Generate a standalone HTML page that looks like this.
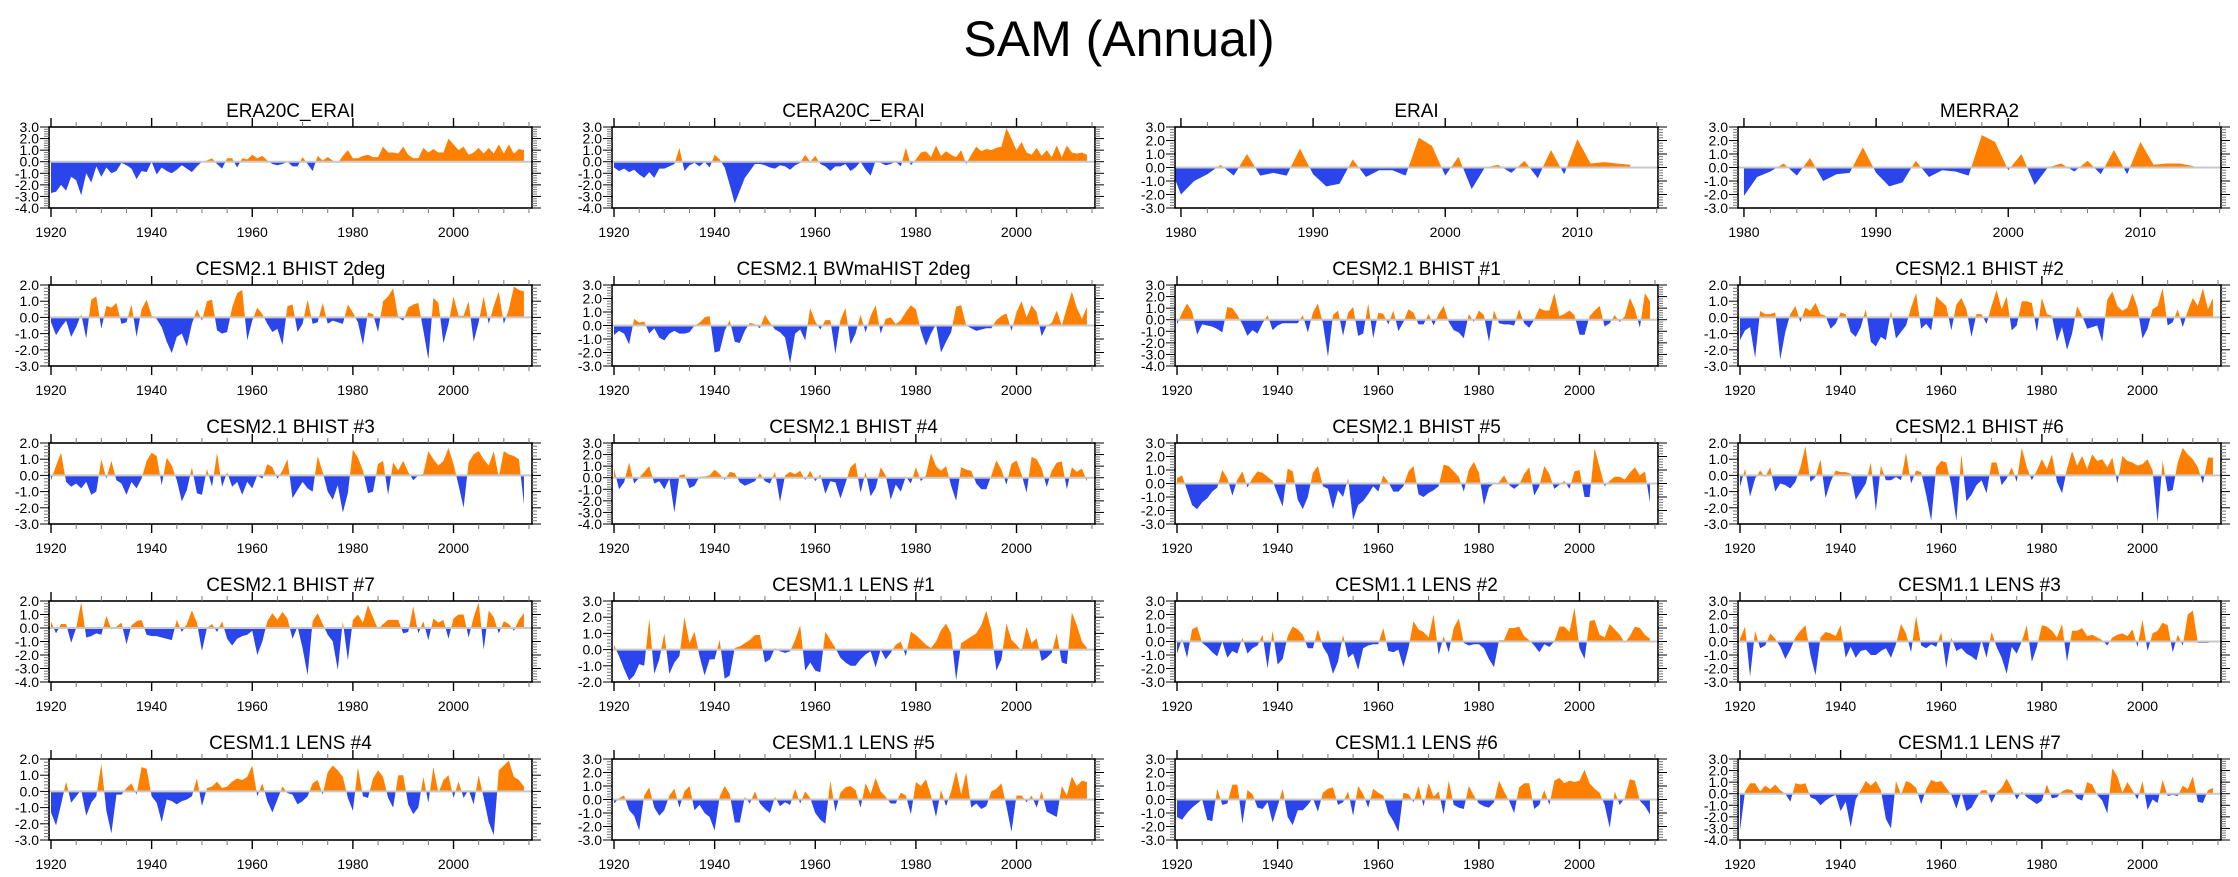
<!DOCTYPE html>
<html><head><meta charset="utf-8"><style>
html,body{margin:0;padding:0;background:#fff}
svg{display:block;font-family:"Liberation Sans",sans-serif}
</style></head><body>
<svg id="chart" width="2238" height="877" viewBox="0 0 2238 877" xmlns="http://www.w3.org/2000/svg">
<rect width="2238" height="877" fill="#fff"/>
<text x="1119" y="56" font-size="50" text-anchor="middle" fill="#000">SAM (Annual)</text>
</svg>
<script>
const titles = ["ERA20C_ERAI","CERA20C_ERAI","ERAI","MERRA2",
"CESM2.1 BHIST 2deg","CESM2.1 BWmaHIST 2deg","CESM2.1 BHIST #1","CESM2.1 BHIST #2",
"CESM2.1 BHIST #3","CESM2.1 BHIST #4","CESM2.1 BHIST #5","CESM2.1 BHIST #6",
"CESM2.1 BHIST #7","CESM1.1 LENS #1","CESM1.1 LENS #2","CESM1.1 LENS #3",
"CESM1.1 LENS #4","CESM1.1 LENS #5","CESM1.1 LENS #6","CESM1.1 LENS #7"];
const yMins = [-4,-4,-3,-3, -3,-3,-4,-3, -3,-4,-3,-3, -4,-2,-3,-3, -3,-3,-3,-4];
const yMaxs = [3,3,3,3, 2,3,3,2, 2,3,3,2, 2,3,3,3, 2,3,3,3];
const startYears = [1920,1920,1979,1980, 1920,1920,1920,1920, 1920,1920,1920,1920, 1920,1920,1920,1920, 1920,1920,1920,1920];
const s0 = [-2.7,-2.6,-2.0,-2.5,-1.3,-1.6,-2.9,-1.0,-1.8,-0.4,-1.3,-0.5,-1.0,-0.8,-0.1,-0.3,-0.6,-1.5,-0.8,-0.9,0.0,-1.1,-0.5,-0.8,-1.0,-0.7,-0.3,-0.6,-0.9,-0.4,0.0,0.1,0.3,-0.2,-0.6,0.3,0.3,-0.5,0.3,0.2,0.6,0.3,0.5,0.1,-0.2,-0.3,-0.2,0.0,-0.4,-0.4,0.4,-0.2,-0.8,0.5,0.1,0.4,0.1,-0.1,0.5,1.0,0.3,0.3,0.5,0.6,0.4,0.4,1.3,0.8,0.8,0.7,1.3,0.6,0.3,0.3,1.2,0.8,1.1,0.8,0.8,2.0,1.5,1.0,1.3,0.6,0.8,1.2,0.7,1.2,0.7,1.5,0.7,1.5,0.7,1.1,1.0];
const s1 = [-0.5,-0.8,-0.6,-0.9,-0.7,-1.1,-1.4,-0.9,-1.4,-0.6,-0.6,-0.4,-0.2,1.2,-0.8,-0.3,-0.1,-0.4,0.0,-0.5,0.6,0.2,-0.5,-2.0,-3.6,-2.5,-1.4,-0.8,-0.2,-0.2,-0.3,-0.5,-0.6,-0.3,-0.4,-0.7,-0.3,-0.1,0.6,0.0,0.5,-0.2,-0.4,-0.8,-0.4,-0.4,-0.2,-0.8,-0.5,0.0,-0.7,-1.2,0.1,-0.1,-0.3,-0.2,0.0,-0.4,1.2,-0.3,0.2,0.8,0.9,0.4,1.4,0.5,0.9,0.6,0.4,1.0,-0.2,0.6,1.3,0.9,1.1,1.0,1.2,1.3,2.9,2.0,1.0,1.7,0.8,0.6,1.2,0.5,1.0,0.4,1.4,0.4,1.4,0.8,0.7,0.8,0.6];
const s2 = [0.5,-2.0,-1.0,-0.5,0.2,-0.6,1.0,-0.6,-0.4,-0.6,1.4,-0.5,-1.4,-1.2,0.6,-0.7,-0.2,-0.2,-0.6,2.2,1.6,-0.6,0.8,-1.6,0.0,0.2,-0.4,0.5,-0.8,1.3,-0.5,2.1,0.3,0.4,0.3,0.2];
const s3 = [-2.1,-0.7,-0.3,0.3,-0.6,0.7,-1.0,-0.5,-0.4,1.5,-0.4,-1.4,-1.1,0.5,-0.7,-0.2,-0.3,-0.6,2.4,1.9,-0.2,1.0,-1.3,0.0,0.3,-0.3,0.5,-0.5,1.3,-0.5,1.9,0.2,0.3,0.3,0.1];
const s4 = [-0.3,-1.1,-0.6,-0.2,-1.2,-0.6,0.2,-1.3,1.1,1.3,-0.7,0.7,0.6,0.9,-0.4,-0.3,0.8,-1.2,0.5,1.1,0.1,-0.1,-0.6,-1.5,-2.2,-1.2,-1.0,-1.8,-0.4,0.5,-0.2,1.0,1.1,-0.8,-1.0,-0.9,0.6,1.5,1.7,-1.4,-0.2,0.6,0.2,-0.4,-0.9,-0.7,-1.7,0.7,0.8,-0.9,-0.4,1.1,-0.4,-0.3,0.9,-0.4,-0.2,-0.3,-0.4,0.8,0.3,-0.3,-1.7,0.3,0.2,-0.9,1.0,1.3,1.8,0.0,-0.2,0.6,0.8,0.9,-0.8,-2.6,1.2,0.9,-1.6,-0.4,1.3,0.1,0.1,1.0,-1.5,-0.3,1.3,-0.4,0.7,1.6,-0.4,0.5,1.9,1.7,1.6];
const s5 = [-0.7,-0.4,-0.6,-1.4,0.5,0.2,0.3,-0.6,-0.2,-0.9,-1.1,-0.6,-0.4,-0.6,-0.6,-0.5,0.0,0.2,0.6,0.7,-2.0,-1.9,-0.4,0.4,-1.2,-1.3,-0.4,0.2,0.1,-0.2,0.8,0.2,-0.3,-0.5,-0.9,-2.8,-0.6,-0.3,-1.1,1.3,0.3,-0.3,0.4,0.4,-2.1,0.4,1.3,-1.4,-0.6,0.8,-0.5,0.7,1.5,-0.6,0.5,0.6,0.1,0.4,1.0,1.5,1.2,-0.4,-1.5,-0.6,0.1,-2.0,-1.2,-0.5,1.4,1.5,0.0,-0.2,-0.4,-0.3,-0.2,-0.2,0.4,0.7,0.9,-0.4,1.0,1.8,0.6,1.5,1.0,-0.8,0.0,0.2,1.1,0.0,1.3,2.5,1.3,0.5,1.4];
const s6 = [-0.4,0.6,1.4,0.7,-1.3,-0.4,-0.5,-0.6,-0.8,-1.1,1.1,1.0,0.4,-0.4,-1.4,-0.9,-1.2,-0.3,0.4,-0.9,-0.5,-0.3,-0.3,-0.3,-0.3,0.4,-1.1,0.6,1.4,-0.3,-3.2,0.4,0.8,-1.4,0.6,1.1,-1.4,-1.2,1.4,-1.6,0.6,0.5,-0.4,0.8,-1.0,-0.2,0.9,0.6,-0.4,-0.4,0.5,-0.5,0.5,1.2,-0.2,-0.9,-1.1,-1.6,0.5,-0.2,0.8,0.4,-1.9,0.8,-0.3,-0.4,-0.4,-0.5,0.9,-0.3,-0.7,0.0,1.0,0.8,0.8,2.3,0.3,0.5,0.8,0.4,-1.3,-1.3,0.3,0.8,1.2,-0.6,-0.3,0.4,-0.2,0.3,1.9,0.9,-0.7,2.3,1.6];
const s7 = [-1.4,-0.8,-0.6,-2.5,0.4,0.2,0.2,0.3,-2.6,-0.9,0.2,0.7,-0.3,0.6,0.4,0.9,0.2,0.1,-0.7,-0.4,0.3,0.2,-0.9,-1.2,-0.6,0.5,-1.5,-1.8,-1.2,-1.4,0.4,-1.3,-0.9,-0.5,0.6,1.5,-0.7,-0.4,-0.8,1.3,1.0,0.7,-0.8,0.8,1.2,0.5,-1.2,0.2,0.2,-0.4,0.7,1.7,0.5,1.3,-0.8,-0.5,1.0,1.0,0.9,-0.9,1.2,0.2,0.1,-1.5,-0.6,-2.0,-1.0,0.7,0.1,-0.7,-0.6,-0.5,-1.5,1.1,1.6,0.7,0.4,0.6,1.5,0.6,-1.3,-0.7,0.5,0.7,1.8,-0.5,-0.3,0.5,-0.6,0.4,1.2,0.7,1.8,0.5,1.2];
const s8 = [-0.3,0.6,1.4,-0.4,-0.7,-0.5,-0.8,-0.4,-1.2,-1.0,1.0,-0.2,0.9,-0.3,-0.5,-1.2,-0.4,-0.8,-0.2,0.9,1.4,1.2,-0.6,1.1,0.6,-0.3,-1.6,-0.9,0.5,-1.1,-1.2,0.4,-0.7,1.4,-0.7,0.2,-0.7,-0.4,-1.2,-0.4,-0.8,0.0,-0.2,0.7,0.5,-0.2,0.3,1.0,-1.4,-0.9,-0.4,-0.8,-1.0,1.2,0.2,-1.0,-1.5,-0.6,-2.3,-1.1,1.6,1.1,0.3,-1.1,-1.0,0.7,0.9,-1.2,0.8,0.3,0.9,0.2,-0.3,0.0,0.1,1.5,1.0,0.6,0.9,1.7,0.7,-0.6,-2.0,0.8,1.3,1.5,1.0,0.6,1.5,-0.1,1.5,1.3,1.2,1.0,-1.8];
const s9 = [0.8,-1.0,-0.4,1.3,-0.5,0.0,0.5,1.0,-0.5,-0.3,-1.0,-0.1,-3.0,0.2,0.3,-0.9,-0.7,0.1,0.1,0.2,0.7,0.3,-0.2,0.5,0.4,-0.4,-0.7,-0.5,-0.3,0.4,-0.3,-0.5,0.5,-2.1,0.2,0.5,0.3,0.6,-0.2,0.6,-0.3,0.3,-1.4,-0.3,-0.4,-1.8,-0.5,0.9,1.3,-1.3,0.5,-1.6,-0.9,0.9,0.2,-1.9,-0.6,-1.2,0.1,-0.5,0.9,-0.3,0.2,2.1,1.0,0.6,1.0,-0.7,-2.0,0.9,0.7,0.6,-0.5,-1.0,-1.0,0.2,1.5,0.7,-0.6,1.2,1.5,0.3,-1.3,1.8,1.6,0.8,-0.8,0.6,1.3,1.4,-1.0,0.9,0.5,0.8,-0.3];
const s10 = [0.4,0.6,-0.5,-1.6,-1.9,-1.4,-1.1,-0.6,-0.3,1.0,0.4,-0.9,0.3,0.9,-0.3,0.4,0.9,0.8,0.5,0.2,-0.8,-1.7,1.1,0.9,-1.2,-1.9,-1.0,0.8,1.3,-0.2,-0.4,-1.9,-0.5,-1.0,0.4,-2.7,-1.6,-1.3,-0.8,-0.2,-0.6,0.6,0.1,-0.6,-0.6,-0.2,0.9,1.3,-0.8,-1.0,-0.7,-0.5,-0.2,1.4,1.3,0.9,0.5,-0.6,1.0,1.6,0.8,-1.6,-0.3,0.0,0.1,0.6,-0.1,-0.4,-0.1,0.7,1.2,-0.9,-0.2,1.3,0.7,-0.4,-0.1,0.2,-0.4,0.9,1.0,-1.0,-1.0,2.6,1.2,-0.2,0.2,0.5,0.5,0.3,0.8,1.2,0.6,0.9,-1.4];
const s11 = [-0.7,0.4,-1.3,-0.2,0.3,-0.1,0.5,-1.0,-0.5,-0.6,-0.8,-0.4,0.5,1.8,-0.4,-0.1,1.0,-1.4,-0.4,0.3,0.2,0.2,0.1,-1.5,-1.0,-0.5,0.8,-2.2,0.6,-0.3,-0.3,-0.1,-0.3,1.4,-0.5,0.3,0.2,-1.2,-2.8,0.5,0.9,0.8,-0.6,-2.8,1.3,-1.6,-1.2,-0.6,-0.3,-1.1,0.8,0.8,-0.6,-0.2,0.5,-0.4,1.7,0.5,-0.3,0.3,1.0,0.4,1.3,-0.4,-1.1,0.4,1.5,0.6,1.2,0.4,1.3,0.9,1.0,0.5,1.1,-0.5,1.2,0.9,0.8,0.6,0.7,1.0,0.3,-2.9,0.9,-1.0,-0.9,0.8,1.7,1.3,1.0,0.5,-0.5,1.1,1.1];
const s12 = [0.5,-0.4,0.3,0.3,-1.1,0.0,1.9,-0.7,-0.6,-0.4,-0.5,0.9,-0.1,0.1,0.4,-1.2,0.2,0.5,0.6,-0.5,-0.6,-0.6,-0.7,-0.8,-0.9,0.6,-0.3,0.3,1.3,0.4,-1.7,0.0,0.3,-0.3,0.5,-0.8,-1.3,-0.8,-0.6,-0.5,-0.2,-2.0,-1.0,0.5,1.1,0.6,1.2,0.7,-0.8,0.1,-1.5,-3.5,0.5,1.1,0.3,-0.5,-1.0,-3.1,0.5,-2.4,0.6,1.0,0.4,1.7,0.8,-0.1,0.3,0.6,0.6,0.6,-0.4,-0.3,1.6,-0.4,0.5,-0.9,0.7,0.4,0.6,-0.8,0.7,1.0,1.0,-0.7,0.8,1.9,-1.6,1.3,0.8,-0.4,0.5,0.3,-0.2,0.6,1.1];
const s13 = [0.3,-0.4,-1.2,-1.9,-1.6,-0.9,-1.0,1.9,-1.5,-0.6,1.0,-1.5,-0.8,-0.4,2.0,0.4,1.1,-0.4,-1.6,-0.6,-0.6,0.6,-1.8,-1.6,0.1,0.2,0.4,0.6,0.9,0.9,-0.8,-0.6,0.1,-0.1,-0.2,-0.1,0.6,1.5,-1.3,-0.8,-1.3,-1.4,1.1,0.6,0.1,-0.5,-0.8,-1.0,-1.0,-0.6,-0.3,-0.1,-1.1,0.0,-0.6,-0.2,0.3,0.5,-0.4,1.1,0.9,0.6,0.3,0.1,0.5,1.2,1.6,1.0,-1.9,0.4,0.6,0.8,1.0,1.5,2.4,1.2,-1.3,-0.6,1.6,0.6,0.3,-0.1,1.4,0.4,0.7,-0.7,-0.5,-0.2,1.0,-0.8,-0.9,2.3,1.5,0.5,0.1];
const s14 = [-0.9,0.2,-1.2,0.9,1.1,-0.1,-0.4,-0.8,-1.1,0.0,-1.2,-0.7,-0.9,0.3,-0.9,-0.5,-0.3,0.5,-2.0,0.8,-1.7,-1.3,0.4,1.1,0.9,0.5,-0.5,-0.5,0.9,-0.4,-1.0,-2.4,-1.5,0.5,-1.2,-0.9,-2.1,-0.5,-0.3,-0.2,-0.2,1.0,-0.7,-0.8,-0.6,-1.9,-0.5,1.5,0.9,0.7,0.3,2.0,-1.0,0.4,-0.8,1.0,1.7,-0.1,-0.3,-0.2,-0.2,-0.5,-1.3,-1.9,0.1,0.1,1.0,1.0,1.1,0.4,0.1,-0.3,-0.8,-0.2,-0.4,0.0,1.1,1.1,0.7,2.5,-0.5,-1.3,1.5,1.6,0.5,0.3,1.3,0.9,0.5,-0.1,0.4,1.1,1.0,0.5,0.2];
const s15 = [0.2,1.1,-2.6,0.8,-0.5,-0.3,0.6,0.2,-0.4,-1.3,-0.6,0.3,0.8,1.2,-1.0,-2.5,0.3,0.7,0.6,0.4,1.2,-1.2,-0.4,-1.2,-0.7,-0.6,-1.0,-1.0,-0.7,-0.5,-1.2,-0.2,1.3,0.6,-0.8,1.9,-0.3,-0.5,-0.2,-0.4,0.7,-2.0,0.3,-0.7,-0.5,-0.9,-1.1,-1.4,0.1,-1.2,0.7,-0.4,-1.2,-2.4,-0.4,-0.9,0.0,1.2,-1.5,-0.4,1.2,1.1,0.8,0.3,1.3,-1.5,0.8,0.8,1.0,0.4,0.5,0.3,0.1,-0.3,0.3,0.5,0.6,0.4,0.9,-0.4,1.6,-0.7,0.6,0.8,1.4,1.2,-0.8,0.5,-0.3,2.0,2.3,-0.1,-0.1,-0.1,0.0];
const s16 = [-1.3,-2.1,-0.8,0.6,-0.7,-0.3,0.1,-1.5,-0.7,-0.3,1.7,-1.2,-2.6,-0.2,-0.2,0.2,0.5,-0.2,1.5,1.4,-0.3,-0.7,-1.9,-0.5,-0.6,-0.8,-0.6,-0.5,-0.3,0.8,-0.9,0.2,0.3,0.6,0.2,0.3,0.6,0.8,0.7,0.9,1.6,-0.3,0.5,-0.6,-1.3,-0.5,0.3,-0.1,-0.2,-0.8,-0.6,-0.3,0.5,0.7,-0.2,1.2,1.6,1.3,0.9,-0.4,-1.2,1.5,-0.3,-0.4,0.8,1.3,0.9,-0.4,-1.0,1.0,1.0,-0.8,-1.4,-1.0,0.9,-0.7,1.5,-0.1,0.7,1.0,-0.4,0.6,-0.4,0.1,-0.8,1.0,-0.4,-1.9,-2.7,1.3,1.6,1.9,0.9,0.7,0.3];
const s17 = [-0.3,0.1,0.3,-0.8,-1.2,-2.3,0.3,0.9,-0.6,-1.2,-0.8,0.3,0.8,-0.6,0.6,1.0,-0.8,-0.4,-1.0,-1.3,-2.3,0.2,1.0,0.4,-1.7,-1.7,0.2,-0.3,0.6,-0.3,-0.7,-1.0,0.2,-0.5,-0.2,-0.4,0.8,-0.3,0.6,0.1,-1.0,-1.5,-1.8,1.4,-0.9,0.5,0.9,1.0,0.7,-0.6,1.2,0.4,1.6,0.6,0.2,-0.3,-0.3,0.5,0.3,-1.1,1.3,1.0,1.5,0.3,-1.3,0.7,-0.5,0.6,2.1,0.4,2.0,-0.6,-0.3,-0.7,-0.5,0.6,0.8,1.2,-0.5,-2.4,0.3,0.3,-0.2,0.3,-0.6,0.6,-0.9,-1.1,-1.3,1.0,0.3,1.7,1.0,1.4,1.3];
const s18 = [-1.3,-1.5,-1.0,-0.6,-0.3,0.0,-1.5,-1.6,0.8,-0.4,-0.3,1.1,1.1,-1.8,0.7,0.4,-0.6,-0.7,-0.2,-1.7,-0.5,0.8,-1.3,-1.9,-0.8,-0.8,-0.4,0.1,-0.9,0.5,0.8,0.9,-0.4,-0.2,0.6,-1.2,1.0,0.4,-0.6,0.8,0.5,0.3,-1.0,-1.6,-2.4,0.5,0.4,-0.2,1.0,-0.5,1.2,0.2,0.6,-1.1,1.4,-0.4,-0.6,-0.7,1.0,0.3,-0.3,-0.5,-0.6,-0.2,1.4,0.6,-0.1,-1.0,0.9,1.2,1.2,-0.7,-0.4,0.7,-0.4,1.4,1.6,1.2,1.4,1.3,1.4,2.2,1.2,0.8,0.5,-0.4,-2.1,0.6,-0.4,0.1,1.5,1.4,-0.1,-0.5,-1.1];
const s19 = [-3.2,0.2,0.9,0.9,0.2,0.7,0.4,0.8,0.3,0.0,-0.7,0.9,0.8,0.9,-0.3,-0.5,-1.0,-0.6,-0.3,-0.1,-1.5,-0.7,-2.9,-0.5,0.3,1.1,0.7,1.1,0.3,-2.2,-3.0,1.1,-0.1,1.1,0.9,0.5,-0.9,0.4,1.2,1.0,1.1,0.5,-0.1,-1.3,0.1,-1.5,-1.2,-0.4,0.3,0.3,-0.8,0.1,0.5,1.3,0.5,-0.5,0.2,-0.3,-0.6,-0.9,-0.6,0.8,-0.4,-0.3,0.2,0.4,0.3,-0.4,-0.6,1.0,0.8,-0.1,-0.6,-1.7,2.2,1.5,0.1,1.0,0.3,-0.5,1.1,-1.4,-0.5,-0.8,1.2,-0.2,-0.1,-0.2,0.7,0.4,1.5,-0.7,-0.8,0.3,0.5];
const series = [s0,s1,s2,s3,s4,s5,s6,s7,s8,s9,s10,s11,s12,s13,s14,s15,s16,s17,s18,s19];

const NS = "http://www.w3.org/2000/svg";
const svg = document.getElementById('chart');
const colLeft = [49, 612, 1175, 1738];
const rowTop = [127, 285, 443, 601, 759];
const W = 483, H = 81;
function mk(tag, attrs, parent) {
  const e = document.createElementNS(NS, tag);
  for (const k in attrs) e.setAttribute(k, attrs[k]);
  parent.appendChild(e);
  return e;
}
for (let p = 0; p < 20; p++) {
  const x0 = colLeft[p % 4], y0 = rowTop[Math.floor(p / 4)];
  const short = startYears[p] >= 1979;
  const xa = short ? 1979.55 : 1919.6, xb = short ? 2016.1 : 2015.6;
  const ymin = yMins[p], ymax = yMaxs[p];
  const X = yr => x0 + (yr - xa) / (xb - xa) * W;
  const Y = v => y0 + (ymax - v) / (ymax - ymin) * H;
  const g = mk('g', {}, svg);
  
  
  const t = mk('text', {x: x0 + W / 2, y: y0 - 10, 'font-size': 19, 'text-anchor': 'middle', fill: '#000'}, g);
  t.textContent = titles[p];
  
  
  const cpA = 'ca' + p, cpB = 'cb' + p;
  const defs = mk('defs', {}, g);
  const c1 = mk('clipPath', {id: cpA}, defs);
  mk('rect', {x: x0, y: y0, width: W, height: Y(0) - y0}, c1);
  const c2 = mk('clipPath', {id: cpB}, defs);
  mk('rect', {x: x0, y: Y(0), width: W, height: y0 + H - Y(0)}, c2);
  const d = series[p];
  let pts = X(startYears[p]).toFixed(2) + ',' + Y(0).toFixed(2) + ' ';
  d.forEach((v, i) => { pts += X(startYears[p] + i).toFixed(2) + ',' + Y(v).toFixed(2) + ' '; });
  pts += X(startYears[p] + d.length - 1).toFixed(2) + ',' + Y(0).toFixed(2);
  const pos = mk('polygon', {points: pts, fill: '#ff8000', 'clip-path': 'url(#' + cpA + ')'}, g);
  
  
  const neg = mk('polygon', {points: pts, fill: '#2b45ec', 'clip-path': 'url(#' + cpB + ')'}, g);
  
  
  const zl = mk('line', {x1: x0, x2: x0 + W, y1: Y(0), y2: Y(0), stroke: '#c8c8c8', 'stroke-width': 2}, g);
  
  
  const box = mk('rect', {x: x0, y: y0, width: W, height: H, fill: 'none', stroke: '#000', 'stroke-width': 1.6}, g);
  
  
  for (let v = ymin; v <= ymax + 1e-6; v += 0.2) {
    const vv = Math.round(v * 10) / 10;
    const major = Math.abs(vv - Math.round(vv)) < 1e-6;
    const len = major ? 9 : 5;
    const yy = Y(vv);
    mk('line', {x1: x0 - len, x2: x0, y1: yy, y2: yy, stroke: major ? '#000' : '#777', 'stroke-width': 1}, g);
    mk('line', {x1: x0 + W, x2: x0 + W + len, y1: yy, y2: yy, stroke: major ? '#000' : '#777', 'stroke-width': 1}, g);
    if (major) {
      const lt = mk('text', {x: x0 - 10, y: yy + 5, 'font-size': 14, 'text-anchor': 'end', fill: '#000'}, g);
      lt.textContent = vv.toFixed(1);
      
      
    }
  }
  const minorStep = short ? 2 : 5, majorStep = short ? 10 : 20;
  const first = short ? 1980 : 1920;
  for (let yr = first; yr <= xb; yr += minorStep) {
    const major = (yr - first) % majorStep === 0;
    const len = major ? 9 : 5;
    const xx = X(yr);
    mk('line', {x1: xx, x2: xx, y1: y0 - len, y2: y0, stroke: major ? '#000' : '#777', 'stroke-width': major ? 1.4 : 1}, g);
    mk('line', {x1: xx, x2: xx, y1: y0 + H, y2: y0 + H + len, stroke: major ? '#000' : '#777', 'stroke-width': major ? 1.4 : 1}, g);
    if (major) {
      const xt = mk('text', {x: xx, y: y0 + H + 29, 'font-size': 14, 'text-anchor': 'middle', fill: '#000'}, g);
      xt.textContent = yr;
      
      
    }
  }
}
</script>
</body></html>
